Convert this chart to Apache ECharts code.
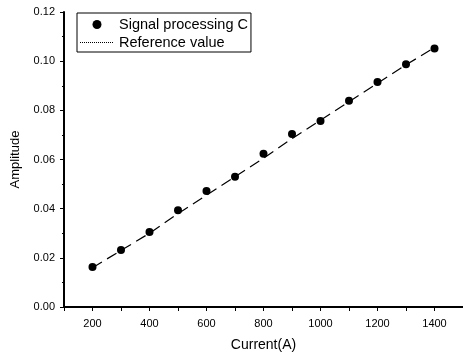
<!DOCTYPE html>
<html>
<head>
    <meta charset="utf-8">
    <script src="https://cdn.jsdelivr.net/npm/echarts@6/dist/echarts.min.js"></script>
    <style>
        html, body { margin: 0; padding: 0; background: #fff; }
        #main { width: 463px; height: 355px; }
    </style>
</head>
<body>
    <div id="main"></div>
    <script>
        // current (A)
        var current = [200, 300, 400, 500, 600, 700, 800, 900, 1000, 1100, 1200, 1300, 1400];
        // measured amplitude, signal processing C
        var signalC = [0.0163, 0.0232, 0.0305, 0.0394, 0.0472, 0.0530, 0.0623, 0.0704, 0.0757, 0.0839, 0.0915, 0.0987, 0.1052];
        // reference value
        var reference = [0.0160, 0.0230, 0.0300, 0.0380, 0.0455, 0.0530, 0.0605, 0.0685, 0.0760, 0.0835, 0.0910, 0.0985, 0.1055];

        var font = 'Liberation Sans, Arial, sans-serif';

        function pairs(ys) {
            return current.map(function (x, i) { return [x, ys[i]]; });
        }

        // dotted line used as legend icon (bbox 34 x 9, dots on the middle row)
        var dotted = 'path://M0,0M34,9';
        for (var k = 0; k < 34; k += 2) {
            dotted += 'M' + k + ',4h1v1h-1z';
        }

        var chart = echarts.init(document.getElementById('main'));

        var option = {
            animation: false,
            textStyle: { fontFamily: font, color: '#000' },
            grid: {
                left: 64,
                top: 12,
                right: 0,
                bottom: 48,
                outerBoundsMode: 'none'
            },
            legend: {
                orient: 'vertical',
                left: 77,
                top: 13,
                padding: [4, 3, 2, 3],
                itemGap: 3,
                itemWidth: 34,
                itemHeight: 9,
                borderColor: '#000',
                borderWidth: 1,
                borderRadius: 0,
                textStyle: { fontFamily: font, fontSize: 14.5, color: '#000' },
                data: [
                    { name: 'Signal processing C', icon: 'circle', itemStyle: { color: '#000', opacity: 1 } },
                    { name: 'Reference value', icon: dotted, itemStyle: { color: '#000', opacity: 1 } }
                ]
            },
            xAxis: {
                type: 'value',
                min: 100,
                max: 1500,
                interval: 100,
                name: 'Current(A)',
                nameLocation: 'middle',
                nameGap: 31,
                nameTextStyle: { fontFamily: font, fontSize: 14, color: '#000' },
                axisLine: { lineStyle: { color: '#000', width: 2 } },
                axisTick: { length: 4, lineStyle: { color: '#000' } },
                axisLabel: {
                    fontFamily: font,
                    fontSize: 11,
                    color: '#000',
                    margin: 11,
                    formatter: function (v) { return v % 200 === 0 ? String(v) : ''; }
                },
                splitLine: { show: false }
            },
            yAxis: {
                type: 'value',
                min: 0,
                max: 0.12,
                interval: 0.02,
                name: 'Amplitude',
                nameLocation: 'middle',
                nameGap: 42,
                nameTextStyle: { fontFamily: font, fontSize: 13, color: '#000' },
                axisLine: { show: true, lineStyle: { color: '#000', width: 2 } },
                axisTick: { show: true, length: 4, lineStyle: { color: '#000' } },
                minorTick: { show: true, splitNumber: 2, length: 2, lineStyle: { color: '#000' } },
                axisLabel: {
                    fontFamily: font,
                    fontSize: 11,
                    color: '#000',
                    margin: 9,
                    formatter: function (v) { return v.toFixed(2); }
                },
                splitLine: { show: false }
            },
            series: [
                {
                    name: 'Signal processing C',
                    type: 'scatter',
                    symbol: 'circle',
                    symbolSize: 8,
                    itemStyle: { color: '#000', opacity: 1 },
                    data: pairs(signalC),
                    z: 3
                },
                {
                    name: 'Reference value',
                    type: 'line',
                    symbol: 'none',
                    showSymbol: false,
                    itemStyle: { color: '#000' },
                    lineStyle: { color: '#000', width: 1.2, type: [11, 6] },
                    data: pairs(reference),
                    z: 2
                }
            ]
        };

        chart.setOption(option);
    </script>
</body>
</html>
